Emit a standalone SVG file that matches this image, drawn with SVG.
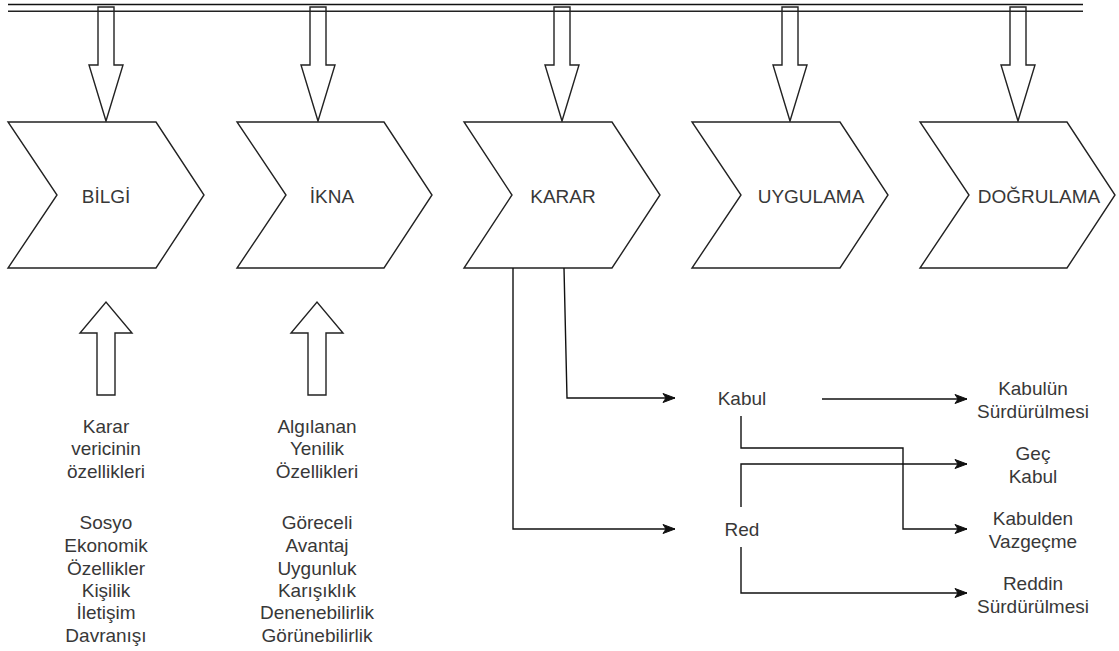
<svg xmlns="http://www.w3.org/2000/svg" width="1119" height="651" viewBox="0 0 1119 651">
<defs>
<style>
.sh{fill:#fff;stroke:#222;stroke-width:1.4;stroke-linejoin:miter}
.ar{fill:none;stroke:#222;stroke-width:1.4}
.t{font-family:"Liberation Sans",Arial,sans-serif;font-size:19px;fill:#383838;text-anchor:middle}
.c{fill:none;stroke:#111;stroke-width:1.4}
</style>
<marker id="m" markerUnits="userSpaceOnUse" viewBox="-13 -5 14 10" markerWidth="14" markerHeight="10" refX="0" refY="0" orient="auto">
<path d="M-12,-4.5 L0,0 L-12,4.5 L-9,0 Z" fill="#111" stroke="#111" stroke-width="1"/>
</marker>
</defs>
<rect width="1119" height="651" fill="#fff"/>
<g id="topbar">
<line x1="8" y1="4.5" x2="1083" y2="4.5" stroke="#111" stroke-width="1.6"/>
<line x1="8" y1="11.3" x2="1083" y2="11.3" stroke="#222" stroke-width="1.4"/>
</g>
<g id="down-arrows">
<path class="ar" d="M98,7 H114 V65 H123 L106,121 L89,65 H98 Z"/>
<path class="ar" d="M310,7 H326 V65 H335 L318,121 L301,65 H310 Z"/>
<path class="ar" d="M554,7 H570 V65 H579 L562,121 L545,65 H554 Z"/>
<path class="ar" d="M782,7 H798 V65 H807 L790,121 L773,65 H782 Z"/>
<path class="ar" d="M1010,7 H1026 V65 H1035 L1018,121 L1001,65 H1010 Z"/>
</g>
<g id="bilgi">
<path class="sh" d="M8,122 H156 L204,195 L156,268 H8 L57,195 Z"/>
<text class="t" x="106" y="203">BİLGİ</text>
</g>
<g id="ikna">
<path class="sh" d="M237,122 H384 L432,195 L384,268 H237 L286,195 Z"/>
<text class="t" x="332" y="203">İKNA</text>
</g>
<g id="karar">
<path class="sh" d="M464,122 H612 L660,195 L612,268 H464 L512,195 Z"/>
<text class="t" x="563" y="203">KARAR</text>
</g>
<g id="uygulama">
<path class="sh" d="M692,122 H840 L888,195 L840,268 H692 L741,195 Z"/>
<text class="t" x="811" y="203">UYGULAMA</text>
</g>
<g id="dogrulama">
<path class="sh" d="M920,122 H1067 L1115,195 L1067,268 H920 L969,195 Z"/>
<text class="t" x="1039" y="203">DOĞRULAMA</text>
</g>
<g id="up-arrows">
<path class="ar" d="M97,395 V333 H80 L106,302 L132,333 H115 V395 Z"/>
<path class="ar" d="M308,395 V333 H291 L317,302 L343,333 H326 V395 Z"/>
</g>
<g id="karar-verici">
<text class="t" x="106" y="433">Karar</text>
<text class="t" x="106" y="455">vericinin</text>
<text class="t" x="106" y="478">özellikleri</text>
<text class="t" x="106" y="529">Sosyo</text>
<text class="t" x="106" y="552">Ekonomik</text>
<text class="t" x="106" y="575">Özellikler</text>
<text class="t" x="106" y="597">Kişilik</text>
<text class="t" x="106" y="619">İletişim</text>
<text class="t" x="106" y="642">Davranışı</text>
</g>
<g id="yenilik">
<text class="t" x="317" y="433">Algılanan</text>
<text class="t" x="317" y="455">Yenilik</text>
<text class="t" x="317" y="478">Özellikleri</text>
<text class="t" x="317" y="529">Göreceli</text>
<text class="t" x="317" y="552">Avantaj</text>
<text class="t" x="317" y="575">Uygunluk</text>
<text class="t" x="317" y="597">Karışıklık</text>
<text class="t" x="317" y="619">Denenebilirlik</text>
<text class="t" x="317" y="642">Görünebilirlik</text>
</g>
<g id="kabul"><text class="t" x="742" y="405">Kabul</text></g>
<g id="red"><text class="t" x="742" y="536">Red</text></g>
<g id="kabulun-surdurulmesi">
<text class="t" x="1033" y="395">Kabulün</text>
<text class="t" x="1033" y="418">Sürdürülmesi</text>
</g>
<g id="gec-kabul">
<text class="t" x="1033" y="460">Geç</text>
<text class="t" x="1033" y="483">Kabul</text>
</g>
<g id="kabulden-vazgecme">
<text class="t" x="1033" y="525">Kabulden</text>
<text class="t" x="1033" y="548">Vazgeçme</text>
</g>
<g id="reddin-surdurulmesi">
<text class="t" x="1033" y="590">Reddin</text>
<text class="t" x="1033" y="613">Sürdürülmesi</text>
</g>
<g id="connectors">
<path class="c" d="M513,268 V529 H675" marker-end="url(#m)"/>
<path class="c" d="M564,268 L567,398 H675" marker-end="url(#m)"/>
<path class="c" d="M822,399 H967" marker-end="url(#m)"/>
<path class="c" d="M741,416 V448 H903 V529 H967" marker-end="url(#m)"/>
<path class="c" d="M741,507 V464 H967" marker-end="url(#m)"/>
<path class="c" d="M741,547 V593 H967" marker-end="url(#m)"/>
</g>
</svg>
